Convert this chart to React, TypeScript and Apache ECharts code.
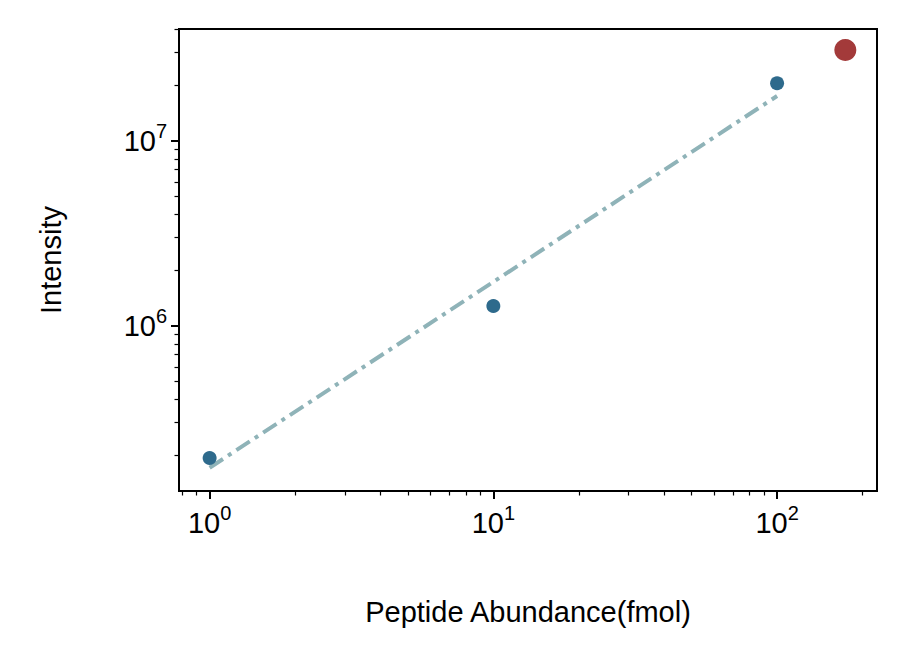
import React, { useEffect, useRef } from "react";
import * as echarts from "echarts";

const abundance = [1, 10, 100];
const intensity = [1.93e5, 1.28e6, 2.05e7];
const outlier = [174, 3.1e7];
const fitLine = [[1, 1.71e5], [100, 1.75e7]];
const xMajor = [1, 10, 100];
const yMajor = [1e6, 1e7];
const xMinor = [0.8, 0.9, 2, 3, 4, 5, 6, 7, 8, 9, 20, 30, 40, 50, 60, 70, 80, 90, 200];
const yMinor = [2e5, 3e5, 4e5, 5e5, 6e5, 7e5, 8e5, 9e5, 2e6, 3e6, 4e6, 5e6, 6e6, 7e6, 8e6, 9e6, 2e7, 3e7, 4e7];

const L = Math.log10;
const XMIN = L(0.78), XMAX = L(225), YMIN = L(1.28e5), YMAX = L(4.03e7);
const FONT = "Liberation Sans";

const rich = {
  b: { fontSize: 29, fontFamily: FONT, color: "#000" },
  s: { fontSize: 20, fontFamily: FONT, color: "#000", padding: [0, 0, 20, 0] },
};
const fmt = (v: number) => `{b|10}{s|${Math.round(v)}}`;

export default function App() {
  const ref = useRef<HTMLDivElement>(null);
  useEffect(() => {
    document.body.style.margin = "0";
    const chart = echarts.init(ref.current!, null, { renderer: "svg" });
    const axisBase = (min: number, max: number) => ({ type: "value", min, max, splitLine: { show: false } });
    chart.setOption({
      animation: false,
      grid: { left: 179, top: 29, width: 698, height: 462, show: true, borderColor: "#000", borderWidth: 2 },
      xAxis: [
        {
          ...axisBase(XMIN, XMAX),
          name: "Peptide Abundance(fmol)",
          nameLocation: "middle",
          nameGap: 106,
          nameTextStyle: { fontSize: 29, fontFamily: FONT, color: "#000" },
          axisLine: { show: true, onZero: false, lineStyle: { color: "#000", width: 2 } },
          axisTick: { show: true, length: 8, lineStyle: { color: "#000", width: 2 }, customValues: xMajor.map(L) },
          axisLabel: { customValues: xMajor.map(L), formatter: fmt, rich, margin: 12 },
        },
        {
          ...axisBase(XMIN, XMAX),
          position: "bottom",
          axisLine: { show: false, onZero: false },
          axisTick: { show: true, length: 4.5, lineStyle: { color: "#000", width: 1.2 }, customValues: xMinor.map(L) },
          axisLabel: { show: false },
        },
      ],
      yAxis: [
        {
          ...axisBase(YMIN, YMAX),
          name: "Intensity",
          nameLocation: "middle",
          nameGap: 114,
          nameTextStyle: { fontSize: 29, fontFamily: FONT, color: "#000" },
          axisLine: { show: true, onZero: false, lineStyle: { color: "#000", width: 2 } },
          axisTick: { show: true, length: 8, lineStyle: { color: "#000", width: 2 }, customValues: yMajor.map(L) },
          axisLabel: { customValues: yMajor.map(L), formatter: fmt, rich, margin: 12 },
        },
        {
          ...axisBase(YMIN, YMAX),
          position: "left",
          axisLine: { show: false, onZero: false },
          axisTick: { show: true, length: 4.5, lineStyle: { color: "#000", width: 1.2 }, customValues: yMinor.map(L) },
          axisLabel: { show: false },
        },
      ],
      series: [
        {
          type: "line",
          data: fitLine.map(([x, y]) => [L(x), L(y)]),
          symbol: "none",
          lineStyle: { color: "#8fb3b8", width: 4, type: [16, 6, 4, 6] },
          z: 1,
        },
        {
          type: "scatter",
          data: abundance.map((x, i) => [L(x), L(intensity[i])]),
          symbolSize: 14,
          itemStyle: { color: "#2e6a8c", opacity: 1 },
          z: 2,
        },
        {
          type: "scatter",
          data: [[L(outlier[0]), L(outlier[1])]],
          symbolSize: 22,
          itemStyle: { color: "#a33a3a", opacity: 1 },
          z: 2,
        },
      ],
    });
    return () => chart.dispose();
  }, []);
  return <div ref={ref} style={{ width: 905, height: 662 }} />;
}
